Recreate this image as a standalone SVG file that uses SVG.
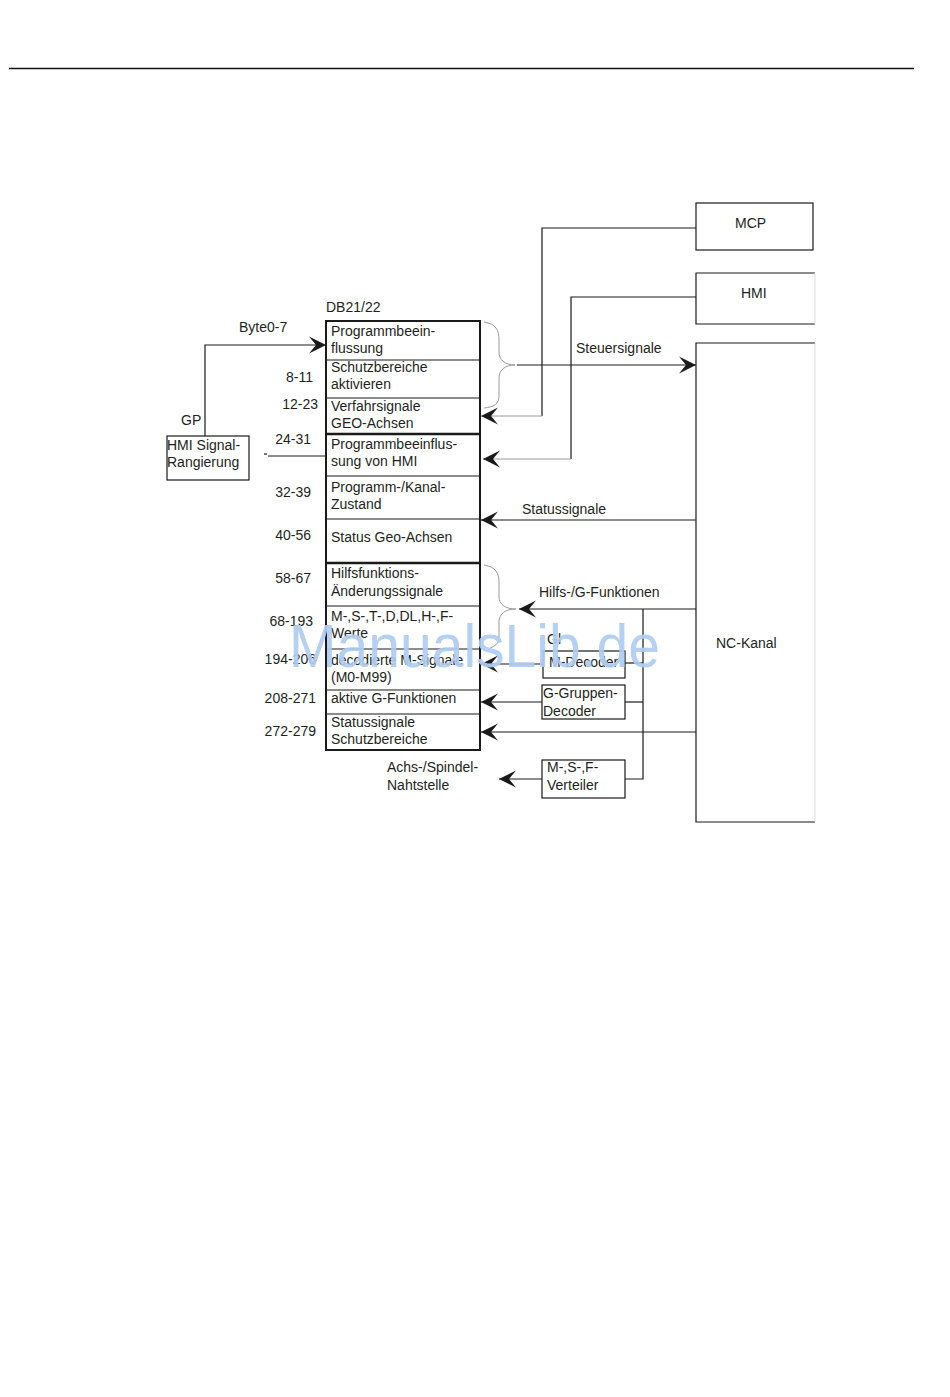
<svg xmlns="http://www.w3.org/2000/svg" width="950" height="1397" viewBox="0 0 950 1397">
<defs>
<style>
text{font-family:"Liberation Sans",Arial,sans-serif;font-size:14px;fill:#231f20}
.ln{stroke:#1a1a1a;stroke-width:1.2;fill:none}
.gl{stroke:#9a9a9a;stroke-width:1;fill:none}
.bx{stroke:#1a1a1a;stroke-width:1.2;fill:#fff}
.row{stroke:#1a1a1a;stroke-width:1.2}
.thick{stroke:#1a1a1a;stroke-width:2.4}
.wm{font-size:62px;fill:#b0cdf2;opacity:0.92}
</style>
<marker id="ah" markerWidth="20" markerHeight="20" viewBox="-19 -10 20 20" refX="0" refY="0" orient="auto" markerUnits="userSpaceOnUse">
<path d="M0,0 L-17,-8.5 L-10,0 L-17,8.5 Z" fill="#1a1a1a"/>
</marker>
</defs>
<rect width="950" height="1397" fill="#fff"/>
<line x1="9" y1="68.5" x2="914" y2="68.5" stroke="#111" stroke-width="1.6"/>

<g id="db21">
<text x="326" y="312">DB21/22</text>
<rect x="326" y="321" width="154" height="429" fill="#fff" stroke="#1a1a1a" stroke-width="2"/>
<line class="row" x1="326" y1="360" x2="480" y2="360"/>
<line class="row" x1="326" y1="398" x2="480" y2="398"/>
<line class="thick" x1="326" y1="434" x2="480" y2="434"/>
<line class="row" x1="326" y1="476" x2="480" y2="476"/>
<line class="row" x1="326" y1="519" x2="480" y2="519"/>
<line class="thick" x1="326" y1="563" x2="480" y2="563"/>
<line class="row" x1="326" y1="606" x2="480" y2="606"/>
<line class="row" x1="326" y1="649" x2="480" y2="649"/>
<line class="row" x1="326" y1="690" x2="480" y2="690"/>
<line class="row" x1="326" y1="714" x2="480" y2="714"/>
<text x="331" y="336">Programmbeein-</text>
<text x="331" y="353">flussung</text>
<text x="331" y="372">Schutzbereiche</text>
<text x="331" y="389">aktivieren</text>
<text x="331" y="411">Verfahrsignale</text>
<text x="331" y="428">GEO-Achsen</text>
<text x="331" y="449">Programmbeeinflus-</text>
<text x="331" y="466">sung von HMI</text>
<text x="331" y="492">Programm-/Kanal-</text>
<text x="331" y="509">Zustand</text>
<text x="331" y="542">Status Geo-Achsen</text>
<text x="331" y="578">Hilfsfunktions-</text>
<text x="331" y="596">Änderungssignale</text>
<text x="331" y="621">M-,S-,T-,D,DL,H-,F-</text>
<text x="331" y="638">Werte</text>
<text x="331" y="665">decodierte M-Signale</text>
<text x="331" y="682">(M0-M99)</text>
<text x="331" y="703">aktive G-Funktionen</text>
<text x="331" y="727">Statussignale</text>
<text x="331" y="744">Schutzbereiche</text>
</g>

<g id="byte-labels">
<text x="239" y="332">Byte0-7</text>
<text x="313" y="382" text-anchor="end">8-11</text>
<text x="318" y="409" text-anchor="end">12-23</text>
<text x="311" y="444" text-anchor="end">24-31</text>
<text x="311" y="497" text-anchor="end">32-39</text>
<text x="311" y="540" text-anchor="end">40-56</text>
<text x="311" y="583" text-anchor="end">58-67</text>
<text x="313" y="626" text-anchor="end">68-193</text>
<text x="316" y="664" text-anchor="end">194-206</text>
<text x="316" y="703" text-anchor="end">208-271</text>
<text x="316" y="736" text-anchor="end">272-279</text>
</g>

<g id="hmi-signal">
<rect class="bx" x="167" y="436" width="82" height="44"/>
<text x="167" y="450">HMI Signal-</text>
<text x="167" y="467">Rangierung</text>
<text x="181" y="425">GP</text>
</g>

<g id="mcp">
<rect class="bx" x="696" y="203" width="117" height="47"/>
<text x="735" y="228">MCP</text>
</g>
<g id="hmi">
<path class="ln" d="M815,273 H696 V324 H815"/>
<line x1="815" y1="273" x2="815" y2="324" stroke="#ddd" stroke-width="1"/>
<text x="741" y="298">HMI</text>
</g>
<g id="nc-kanal">
<path class="ln" d="M815,343 H696 V822 H815"/>
<line x1="815" y1="343" x2="815" y2="822" stroke="#ddd" stroke-width="1"/>
<text x="716" y="648">NC-Kanal</text>
</g>
<g id="m-decoder">
<rect class="bx" x="543" y="651" width="82" height="27"/>
<text x="547" y="644">Gl</text>
<text x="549" y="667">M-Decoder</text>
</g>
<g id="g-decoder">
<rect class="bx" x="542" y="685" width="83" height="34"/>
<text x="543" y="698">G-Gruppen-</text>
<text x="543" y="716">Decoder</text>
</g>
<g id="verteiler">
<rect class="bx" x="542" y="760" width="83" height="38"/>
<text x="547" y="772">M-,S-,F-</text>
<text x="547" y="790">Verteiler</text>
</g>
<g id="achs-label">
<text x="387" y="772">Achs-/Spindel-</text>
<text x="387" y="790">Nahtstelle</text>
</g>

<g id="connectors">
<path class="ln" d="M205,436 V345 H326" marker-end="url(#ah)"/>
<line class="ln" x1="268" y1="456" x2="326" y2="456"/>
<line class="ln" x1="264" y1="454" x2="267" y2="454"/>
<path class="gl" d="M484,322 C496,324 499,330 499,340 V352 C499,360 505,365 515,365 C505,365 499,370 499,378 V396 C499,404 494,407 484,408"/>
<path class="ln" d="M517,365 H696" marker-end="url(#ah)"/>
<text x="576" y="353">Steuersignale</text>
<path class="ln" d="M696,228 H542 V416"/>
<path class="gl" d="M542,416 H481" marker-end="url(#ah)"/>
<path class="ln" d="M696,297 H571 V459"/>
<path class="gl" d="M571,459 H483" marker-end="url(#ah)"/>
<path class="ln" d="M696,520 H481" marker-end="url(#ah)"/>
<text x="522" y="514">Statussignale</text>
<path class="gl" d="M484,565 C496,567 499,573 499,583 V597 C499,604 505,609 516,609 C505,609 499,614 499,622 V636 C499,644 495,646 490,648"/>
<path class="ln" d="M696,609 H519" marker-end="url(#ah)"/>
<text x="539" y="597">Hilfs-/G-Funktionen</text>
<path class="ln" d="M643,609 V779 H625"/>
<path class="ln" d="M643,663 H625"/>
<path class="ln" d="M543,664 H481" marker-end="url(#ah)"/>
<path class="ln" d="M643,702 H625"/>
<path class="ln" d="M542,702 H481" marker-end="url(#ah)"/>
<path class="ln" d="M696,732 H481" marker-end="url(#ah)"/>
<path class="ln" d="M542,779 H499" marker-end="url(#ah)"/>
</g>

<text class="wm" x="289" y="667" textLength="371" lengthAdjust="spacingAndGlyphs">ManualsLib.de</text>
</svg>
